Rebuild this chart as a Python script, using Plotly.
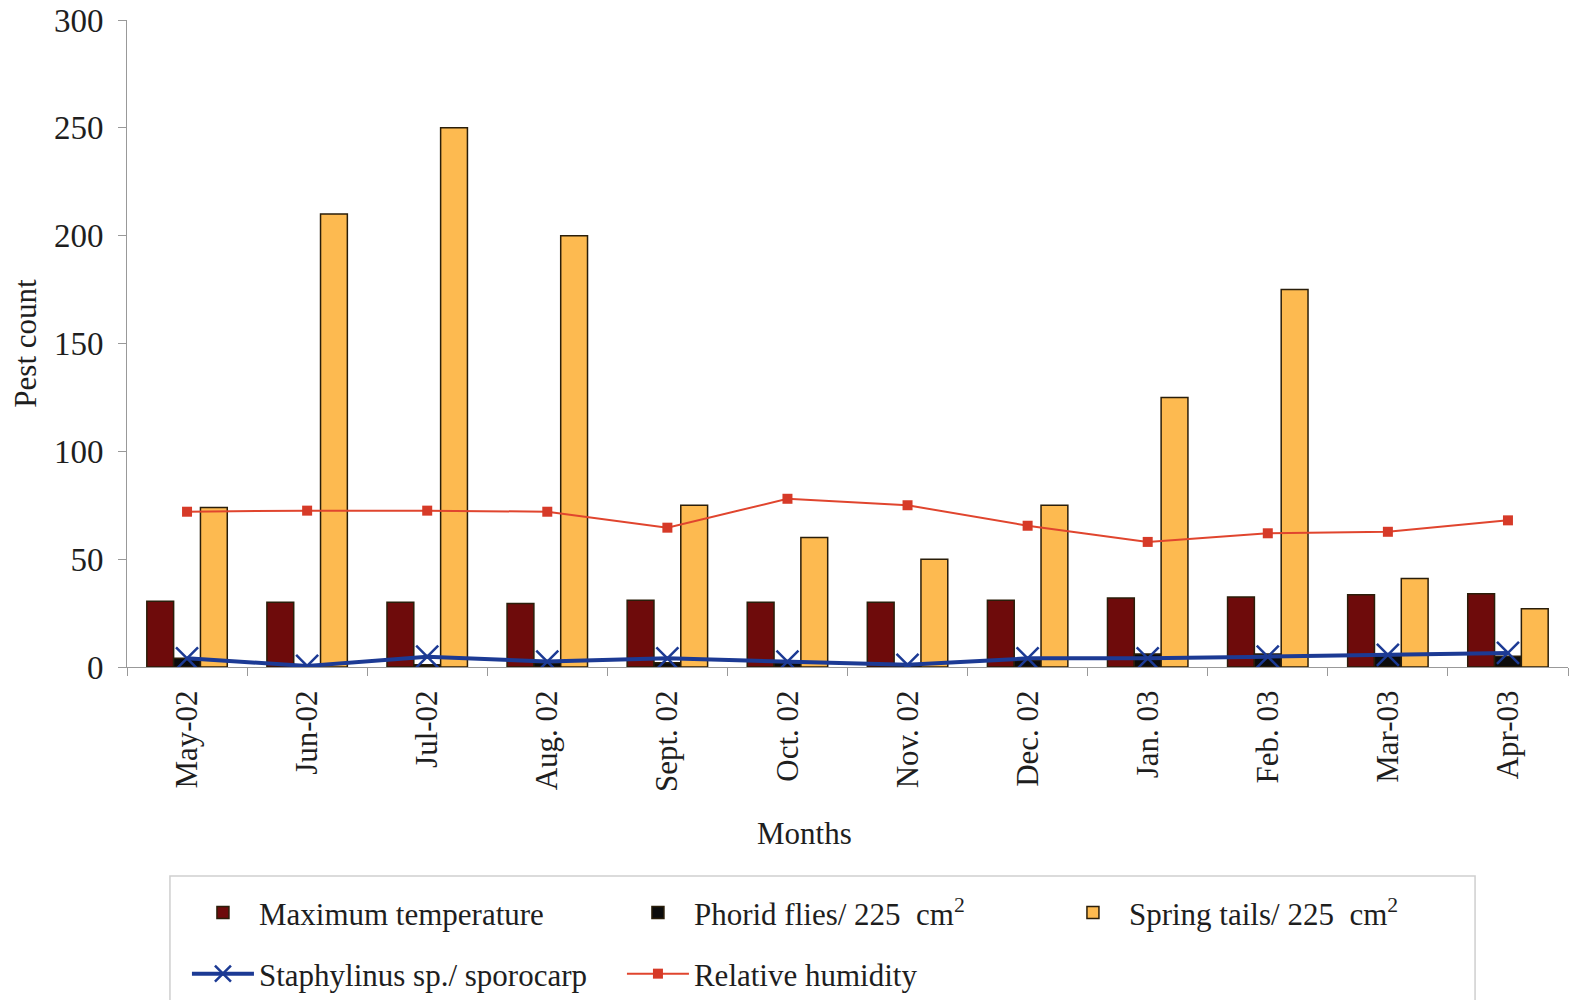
import plotly.graph_objects as go

months = ["May-02", "Jun-02", "Jul-02", "Aug. 02", "Sept. 02", "Oct. 02",
          "Nov. 02", "Dec. 02", "Jan. 03", "Feb. 03", "Mar-03", "Apr-03"]
max_temp = [30.5, 30, 30, 29.5, 31, 30, 30, 31, 32, 32.5, 33.5, 34]
phorid_flies = [4, 1, 1, 2, 2, 2, 1, 3, 6, 6, 5, 5]
spring_tails = [74, 210, 250, 200, 75, 60, 50, 75, 125, 175, 41, 27]
staphylinus = [4, 0.5, 4.8, 2.5, 4, 2.5, 1, 4, 4, 4.8, 5.6, 6.5]
rel_humidity = [72, 72.5, 72.5, 72, 64.6, 78, 75, 65.5, 58, 62, 62.7, 68]

FONT = "Liberation Serif, Times New Roman, serif"
TXT = "#1e1e1e"
outline = dict(color="#2a1e0a", width=1.5)

fig = go.Figure()
fig.add_trace(go.Bar(name="Maximum temperature", x=months, y=max_temp,
                     marker=dict(color="#6E0B0B", line=outline), legend="legend"))
fig.add_trace(go.Bar(name="Phorid flies/ 225  cm<sup>2</sup>", x=months, y=phorid_flies,
                     marker=dict(color="#0C0C0C", line=outline), legend="legend"))
fig.add_trace(go.Bar(name="Spring tails/ 225  cm<sup>2</sup>", x=months, y=spring_tails,
                     marker=dict(color="#FDBA50", line=outline), legend="legend"))
fig.add_trace(go.Scatter(name="Staphylinus sp./ sporocarp", x=months, y=staphylinus,
                         mode="lines+markers", legend="legend2",
                         line=dict(color="#1C3A94", width=4),
                         marker=dict(symbol="x-thin", size=22,
                                     line=dict(color="#1C3A94", width=2.5))))
fig.add_trace(go.Scatter(name="Relative humidity", x=months, y=rel_humidity,
                         mode="lines+markers", legend="legend2",
                         line=dict(color="#E0452E", width=2),
                         marker=dict(symbol="square", size=10, color="#D63A28")))

leg_common = dict(orientation="h", xanchor="left", yanchor="middle",
                  entrywidth=358, entrywidthmode="pixels",
                  bgcolor="rgba(0,0,0,0)", borderwidth=0,
                  font=dict(family=FONT, size=31, color=TXT),
                  traceorder="normal", itemwidth=62)

fig.update_layout(
    width=1582, height=1000,
    margin=dict(l=127, r=14, t=20, b=333, autoexpand=False),
    paper_bgcolor="white", plot_bgcolor="white",
    font=dict(family=FONT, size=30, color=TXT),
    barmode="group", bargap=0.33, bargroupgap=0,
    showlegend=True,
    legend=dict(x=0.0416, y=-0.380, **leg_common),
    legend2=dict(x=0.0416, y=-0.4745, **leg_common),
    shapes=[dict(type="rect", xref="paper", yref="paper",
                 x0=0.0298, x1=0.9355, y0=-0.53, y1=-0.323,
                 line=dict(color="#cfcfcf", width=1.5), fillcolor="rgba(0,0,0,0)")],
    annotations=[dict(text="Months", xref="paper", yref="paper", x=0.47, y=-0.2566,
                      xanchor="center", yanchor="middle", showarrow=False,
                      font=dict(family=FONT, size=31, color=TXT))],
    xaxis=dict(
        range=[-0.5, 11.5],
        tickangle=-90, tickson="boundaries", ticks="outside", ticklen=8,
        tickcolor="#999999", showline=True, linecolor="#999999", linewidth=1,
        showgrid=False, tickfont=dict(size=31), ticklabelstandoff=10,
        automargin=False,
    ),
    yaxis=dict(
        title=dict(text="Pest count", standoff=8, font=dict(size=31)),
        range=[0, 300], dtick=50, ticks="outside", ticklen=8,
        tickcolor="#999999", showline=True, linecolor="#999999", linewidth=1,
        showgrid=False, zeroline=False, tickfont=dict(size=33),
        ticklabelstandoff=8, automargin=False, ticklabeloverflow="allow",
    ),
)

fig.write_html("out.html", config={"displayModeBar": False},
               post_script="document.body.style.margin='0';")
